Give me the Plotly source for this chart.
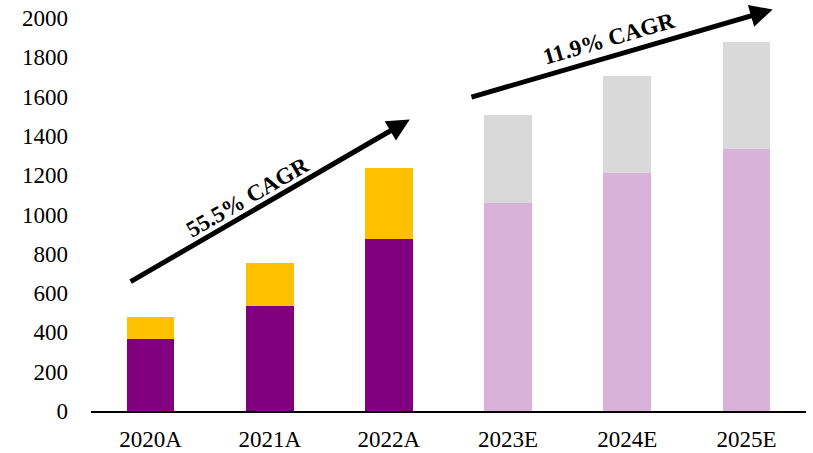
import plotly.graph_objects as go

categories = ["2020A", "2021A", "2022A", "2023E", "2024E", "2025E"]
bottom_values = [364, 533, 876, 1061, 1209, 1331]
top_values = [115, 221, 362, 443, 498, 549]
bottom_colors = ["#800080", "#800080", "#800080", "#D9B1D9", "#D9B1D9", "#D9B1D9"]
top_colors = ["#FFC000", "#FFC000", "#FFC000", "#D9D9D9", "#D9D9D9", "#D9D9D9"]
y_ticks = [0, 200, 400, 600, 800, 1000, 1200, 1400, 1600, 1800, 2000]

FONT = "'Liberation Serif', 'Times New Roman', Times, serif"

fig = go.Figure()
fig.add_trace(go.Bar(x=categories, y=bottom_values, marker=dict(color=bottom_colors, line=dict(width=0)),
                     hoverinfo="skip"))
fig.add_trace(go.Bar(x=categories, y=top_values, marker=dict(color=top_colors, line=dict(width=0)),
                     hoverinfo="skip"))

# CAGR arrows (tail -> head in data coordinates)
arrows = [
    dict(tail=(-0.18, 654), head=(2.175, 1483)),
    dict(tail=(2.68, 1595), head=(5.22, 2043)),
]
for a in arrows:
    fig.add_annotation(x=a["head"][0], y=a["head"][1], ax=a["tail"][0], ay=a["tail"][1],
                       xref="x", yref="y", axref="x", ayref="y",
                       text="", showarrow=True, arrowhead=2, arrowsize=0.9,
                       arrowwidth=5, arrowcolor="#000000", standoff=0, startstandoff=0)

labels = [
    dict(text="<b>55.5% CAGR</b>", x=0.81, y=1087, angle=-30),
    dict(text="<b>11.9% CAGR</b>", x=3.85, y=1895, angle=-16.2),
]
for l in labels:
    fig.add_annotation(x=l["x"], y=l["y"], xref="x", yref="y", text=l["text"],
                       textangle=l["angle"], showarrow=False,
                       font=dict(family=FONT, size=23, color="#000000"))

fig.update_layout(
    barmode="stack",
    bargap=0.6,
    showlegend=False,
    width=813, height=453,
    margin=dict(l=91, r=7, t=18, b=42, autoexpand=False),
    plot_bgcolor="white", paper_bgcolor="white",
    font=dict(family=FONT, size=23, color="#000000"),
    xaxis=dict(type="category", showline=True, linecolor="#000000", linewidth=2,
               showgrid=False, ticks="", ticklabelstandoff=6, automargin=False,
               tickfont=dict(family=FONT, size=23, color="#000000")),
    yaxis=dict(range=[0, 2000], tickvals=y_ticks, showgrid=False, zeroline=False,
               showline=False, ticks="", ticklabelstandoff=22, automargin=False,
               tickfont=dict(family=FONT, size=23, color="#000000")),
)

fig.write_html("out.html")
